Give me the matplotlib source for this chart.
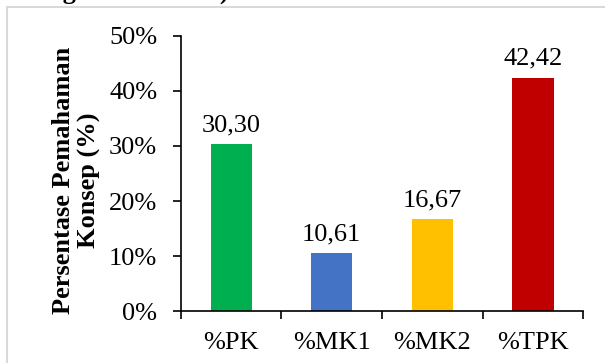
import matplotlib.pyplot as plt
from matplotlib.patches import Rectangle
from matplotlib.ticker import FuncFormatter

categories = ["%PK", "%MK1", "%MK2", "%TPK"]
values = [30.30, 10.61, 16.67, 42.42]
colors = ["#00B050", "#4472C4", "#FFC000", "#C00000"]
y_ticks = [0, 10, 20, 30, 40, 50]

plt.rcParams["font.family"] = ["Liberation Serif", "DejaVu Serif"]

fig = plt.figure(figsize=(6.05, 3.63), dpi=100)
ax = fig.add_axes([0.299, 0.143, 0.665, 0.758])

x = list(range(len(categories)))
bars = ax.bar(x, values, width=0.41, color=colors)
for b, v in zip(bars, values):
    ax.text(b.get_x() + b.get_width() / 2, v + 1.4, f"{v:.2f}".replace(".", ","),
            ha="center", va="bottom", fontsize=19)

ax.set_xlim(-0.5, len(categories) - 0.5)
ax.set_ylim(0, 50)
ax.set_yticks(y_ticks)
ax.yaxis.set_major_formatter(FuncFormatter(lambda v, p: f"{v:.0f}%"))
ax.set_xticks(x)
ax.set_xticklabels(categories)
ax.set_xticks([i - 0.5 for i in range(len(categories) + 1)], minor=True)
ax.tick_params(axis="x", which="major", length=0, pad=15, labelsize=19)
ax.tick_params(axis="x", which="minor", length=6, width=1.2)
ax.tick_params(axis="y", length=6, width=1.2, labelsize=19, pad=11)

for s in ["top", "right"]:
    ax.spines[s].set_visible(False)
for s in ["left", "bottom"]:
    ax.spines[s].set_linewidth(1.2)

ax.set_ylabel("Persentase Pemahaman\nKonsep (%)", fontsize=19, fontweight="bold",
              linespacing=1.15, labelpad=6)
ax.yaxis.label.set_y(0.475)

# outer frame of the pasted chart
fig.patches.append(Rectangle((7 / 605, -0.2), 1.2, 1.2 - 7 / 363,
                             transform=fig.transFigure, fill=False,
                             edgecolor="#d9d9d9", linewidth=1.5))
# cut-off caption line above the chart
fig.text(0.08, 1 + 1 / 363, "ngan data awal)", fontsize=19, fontweight="bold",
         ha="left", va="baseline")

fig.savefig("out.png", dpi=100)
